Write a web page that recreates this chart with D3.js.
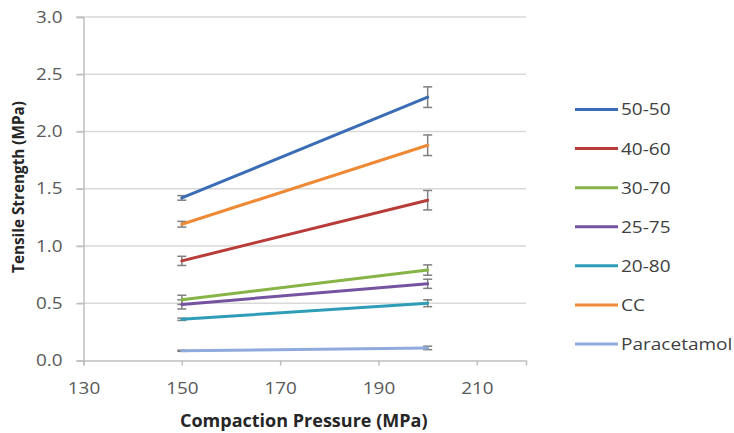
<!DOCTYPE html>
<html><head><meta charset="utf-8">
<script src="https://cdn.jsdelivr.net/npm/d3@7"></script>
<style>
body{margin:0;background:#fff;}
svg{display:block;font-family:"Open Sans",Lato,sans-serif;}
.sx{transform-box:fill-box;}
</style></head>
<body><svg id="c" width="734" height="433"></svg>
<script>
const pressures = [150, 200];
const seriesNames = ["50-50","40-60","30-70","25-75","20-80","CC","Paracetamol"];
const seriesColors = ["#3A6DB5","#B83C3A","#86B446","#7653A0","#2E9DB8","#EE8A35","#8FAADC"];
const values50_50 = [1.42, 2.30];
const values40_60 = [0.87, 1.40];
const values30_70 = [0.53, 0.79];
const values25_75 = [0.49, 0.67];
const values20_80 = [0.36, 0.50];
const valuesCC = [1.19, 1.88];
const valuesParacetamol = [0.085, 0.11];
const err50_50 = [0.02, 0.09];
const err40_60 = [0.04, 0.085];
const err30_70 = [0.04, 0.045];
const err25_75 = [0.04, 0.04];
const err20_80 = [0.01, 0.03];
const errCC = [0.025, 0.09];
const errParacetamol = [0.005, 0.015];
const xTicks = [130,150,170,190,210];
const yTicks = [0,0.5,1.0,1.5,2.0,2.5,3.0];

const allValues = [values50_50,values40_60,values30_70,values25_75,values20_80,valuesCC,valuesParacetamol];
const allErr = [err50_50,err40_60,err30_70,err25_75,err20_80,errCC,errParacetamol];
const data = seriesNames.map((n,i)=>({name:n,color:seriesColors[i],
  pts:pressures.map((p,j)=>({x:p,y:allValues[i][j],e:allErr[i][j]}))}));

function stretch(sel, k, origin){
  sel.classed("sx",true)
     .style("transform-origin",origin)
     .style("transform",`scaleX(${k})`);
}

const svg = d3.select("#c");
const m = {l:83.5, r:526, t:17, b:360.5};
const x = d3.scaleLinear().domain([130,220]).range([m.l,m.r]);
const y = d3.scaleLinear().domain([0,3]).range([m.b,m.t]);

// gridlines
svg.append("g").selectAll("line").data(yTicks.filter(d=>d>0)).join("line")
  .attr("x1",m.l-7).attr("x2",m.r).attr("y1",d=>y(d)).attr("y2",d=>y(d))
  .attr("stroke","#D9D9D9").attr("stroke-width",1.5);

// y axis
const ya = svg.append("g").attr("transform",`translate(${m.l},0)`)
  .call(d3.axisLeft(y).tickValues(yTicks).tickFormat(d3.format(".1f")).tickSize(7).tickPadding(14));
ya.select(".domain").attr("stroke","#BFBFBF").attr("stroke-width",1.5);
ya.selectAll(".tick line").attr("stroke","#BFBFBF").attr("stroke-width",1.5);
ya.selectAll("text").attr("font-size",16).attr("fill","#595959").attr("font-family","Open Sans")
  .call(stretch,1.18,"right center");

// x axis
const xa = svg.append("g").attr("transform",`translate(0,${m.b})`)
  .call(d3.axisBottom(x).tickValues(xTicks).tickSize(5).tickPadding(17));
xa.select(".domain").attr("stroke","#BFBFBF").attr("stroke-width",1.5);
xa.selectAll(".tick line").attr("stroke","#BFBFBF").attr("stroke-width",1.5);
xa.selectAll("text").attr("font-size",16).attr("fill","#595959").attr("font-family","Open Sans")
  .call(stretch,1.18,"center center");

// error bars
const eb = svg.append("g");
data.forEach(s=>{
  s.pts.forEach(p=>{
    const g = eb.append("g").attr("stroke","#7F7F7F").attr("stroke-width",1.5);
    g.append("line").attr("x1",x(p.x)).attr("x2",x(p.x)).attr("y1",y(p.y-p.e)).attr("y2",y(p.y+p.e));
    g.append("line").attr("x1",x(p.x)-4.5).attr("x2",x(p.x)+4.5).attr("y1",y(p.y-p.e)).attr("y2",y(p.y-p.e));
    g.append("line").attr("x1",x(p.x)-4.5).attr("x2",x(p.x)+4.5).attr("y1",y(p.y+p.e)).attr("y2",y(p.y+p.e));
  });
});

// lines
const line = d3.line().x(d=>x(d.x)).y(d=>y(d.y));
svg.append("g").selectAll("path").data(data.slice().reverse()).join("path")
  .attr("d",d=>line(d.pts)).attr("fill","none").attr("stroke",d=>d.color)
  .attr("stroke-width",3).attr("stroke-linecap","round");

// legend
const lg = svg.append("g");
const ly = d3.scalePoint().domain(seriesNames).range([109.5,344]);
seriesNames.forEach((n,i)=>{
  lg.append("line").attr("x1",575).attr("x2",618).attr("y1",ly(n)).attr("y2",ly(n))
    .attr("stroke",seriesColors[i]).attr("stroke-width",3);
  lg.append("text").attr("x",621).attr("y",ly(n)).attr("dy","0.35em")
    .attr("font-size",17).attr("fill","#404040").text(n)
    .call(stretch,1.12,"left center");
});

// axis titles
svg.append("text").attr("x",(m.l+m.r)/2 - 1).attr("y",427).attr("text-anchor","middle")
  .attr("font-size",17.5).attr("font-weight","bold").attr("fill","#262626")
  .text("Compaction Pressure (MPa)")
  .call(stretch,1.03,"center center");
svg.append("text").attr("transform",`translate(24,187) rotate(-90)`)
  .attr("text-anchor","middle").attr("font-size",15.3).attr("font-weight","bold").attr("fill","#262626")
  .text("Tensile Strength (MPa)");
</script></body></html>
